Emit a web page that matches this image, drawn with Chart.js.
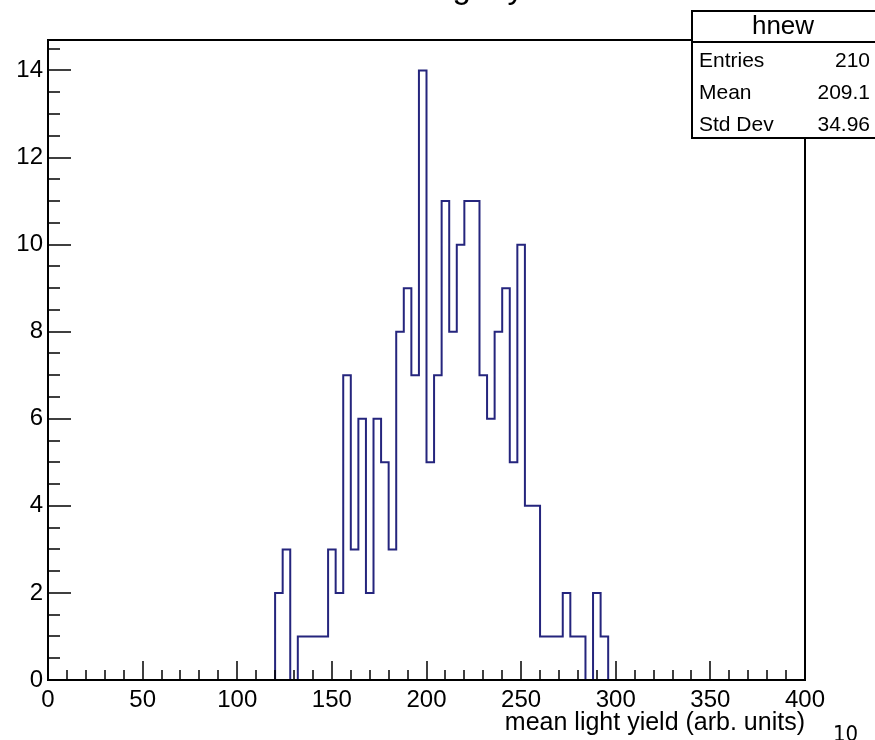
<!DOCTYPE html>
<html lang="en">
<head>
  <meta charset="UTF-8">
  <title>hnew</title>
  <script src="https://cdn.jsdelivr.net/npm/chart.js"></script>
  <style>
    body { margin: 0; background: #fff; }
    canvas { display: block; }
  </style>
</head>
<body>
  <canvas id="histChart" width="875" height="740"></canvas>

  <script>
    const histTitle = "mean light yield";
    const xTitle = "mean light yield (arb. units)";
    const histName = "hnew";
    const pageNo = "10";

    // histogram: 4-unit bins, first filled bin starts at 120
    const binWidth = 4;
    const firstEdge = 120;
    const counts = [2, 3, 0, 1, 1, 1, 1, 3, 2, 7, 3, 6, 2, 6, 5, 3,
                    8, 9, 7, 14, 5, 7, 11, 8, 10, 11, 11, 7, 6, 8, 9, 5, 10,
                    4, 4, 1, 1, 1, 2, 1, 1, 0, 2, 1];

    const statLabels = ["Entries", "Mean", "Std Dev"];
    const statValues = ["210", "209.1", "34.96"];

    const xMin = 0, xMax = 400, xMajor = 50, xMinor = 10;
    const yMin = 0, yMax = 14.7, yMajor = 2, yMinor = 0.5;

    const FONT = '"Liberation Sans", Arial, Helvetica, sans-serif';

    // left bin edges with their counts, closed with zeros at both ends
    const points = [{ x: firstEdge, y: 0 }];
    counts.forEach((c, i) => points.push({ x: firstEdge + i * binWidth, y: c }));
    points.push({ x: firstEdge + counts.length * binWidth, y: 0 });

    const rootFrame = {
      id: 'rootFrame',
      afterDraw(chart) {
        const { ctx, chartArea: a, scales: { x, y } } = chart;
        ctx.save();
        ctx.strokeStyle = '#000';
        ctx.lineWidth = 2;
        ctx.strokeRect(a.left, a.top, a.right - a.left, a.bottom - a.top);

        // ticks inside the frame, bottom and left only
        ctx.lineWidth = 1.5;
        ctx.beginPath();
        for (let v = xMin; v <= xMax + 1e-6; v += xMinor) {
          const px = Math.round(x.getPixelForValue(v));
          const len = Math.abs(v % xMajor) < 1e-6 ? 19 : 10;
          ctx.moveTo(px, a.bottom);
          ctx.lineTo(px, a.bottom - len);
        }
        for (let v = yMin; v <= yMax + 1e-6; v += yMinor) {
          const py = Math.round(y.getPixelForValue(v));
          const len = Math.abs(v % yMajor) < 1e-6 ? 23 : 12;
          ctx.moveTo(a.left, py);
          ctx.lineTo(a.left + len, py);
        }
        ctx.stroke();

        // histogram title, mostly above the page edge
        ctx.fillStyle = '#000';
        ctx.font = '33px ' + FONT;
        ctx.textAlign = 'left';
        ctx.textBaseline = 'alphabetic';
        ctx.fillText(histTitle, 346, -2);

        // stats box
        const bx = 692, by = 11, bw = 190, bh = 127;
        ctx.lineWidth = 2;
        ctx.fillStyle = '#fff';
        ctx.fillRect(bx, by, bw, bh);
        ctx.strokeRect(bx, by, bw, bh);
        ctx.beginPath();
        ctx.moveTo(bx, 42);
        ctx.lineTo(bx + bw, 42);
        ctx.stroke();
        ctx.fillStyle = '#000';
        ctx.textBaseline = 'middle';
        ctx.textAlign = 'center';
        ctx.font = '26px ' + FONT;
        ctx.fillText(histName, 783, 27);
        ctx.font = '21px ' + FONT;
        statLabels.forEach((lab, i) => {
          const ry = 61 + i * 32;
          ctx.textAlign = 'left';
          ctx.fillText(lab, 699, ry);
          ctx.textAlign = 'right';
          ctx.fillText(statValues[i], 870, ry);
        });

        // page number in the corner
        ctx.textAlign = 'left';
        ctx.textBaseline = 'alphabetic';
        ctx.font = '22px "Liberation Sans Narrow", "DejaVu Sans Condensed", sans-serif';
        ctx.fillText(pageNo, 833, 741);
        ctx.restore();
      }
    };

    const ctx = document.getElementById('histChart').getContext('2d');
    const histChart = new Chart(ctx, {
      type: 'line',
      data: {
        datasets: [{
          label: histName,
          data: points,
          borderColor: '#25257d',
          borderWidth: 2,
          pointRadius: 0,
          fill: false,
          stepped: 'before'
        }]
      },
      options: {
        responsive: false,
        animation: false,
        devicePixelRatio: 1,
        layout: { padding: { top: 40, right: 70, left: 0, bottom: 0 } },
        plugins: { legend: { display: false }, tooltip: { enabled: false } },
        scales: {
          x: {
            type: 'linear',
            min: xMin,
            max: xMax,
            afterFit: s => { s.height = 60; },
            grid: { display: false, drawTicks: false },
            border: { display: false },
            ticks: {
              stepSize: xMajor,
              includeBounds: false,
              maxRotation: 0,
              padding: 6,
              color: '#000',
              font: { family: FONT, size: 24 }
            },
            title: {
              display: true,
              text: xTitle,
              align: 'end',
              color: '#000',
              font: { family: FONT, size: 25 },
              padding: { top: 0, bottom: 2 }
            }
          },
          y: {
            min: yMin,
            max: yMax,
            afterFit: s => { s.width = 48; },
            grid: { display: false, drawTicks: false },
            border: { display: false },
            ticks: {
              stepSize: yMajor,
              includeBounds: false,
              padding: 5,
              color: '#000',
              font: { family: FONT, size: 24 }
            }
          }
        }
      },
      plugins: [rootFrame]
    });
  </script>
</body>
</html>
